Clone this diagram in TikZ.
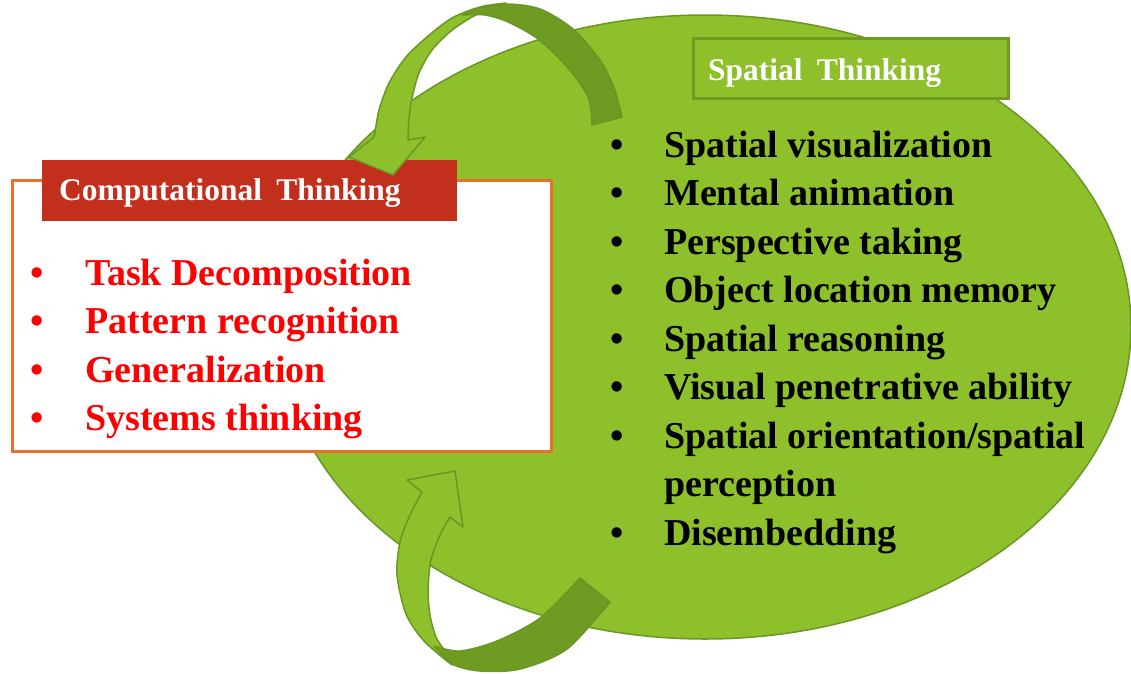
\documentclass[tikz,border=0pt]{standalone}
\usepackage{fontspec}
\setmainfont{Liberation Serif}
\usetikzlibrary{shapes.geometric}

\definecolor{leaf}{HTML}{8DC02A}
\definecolor{leafdark}{HTML}{6F9B22}
\definecolor{leafline}{HTML}{6A9624}
\definecolor{brick}{HTML}{C22F1C}
\definecolor{ember}{HTML}{E8702A}
\definecolor{redtext}{HTML}{FF0000}

\tikzset{
  listfont/.style={font=\fontsize{38}{48.5}\selectfont\bfseries},
  headfont/.style={font=\fontsize{31.5}{36}\selectfont\bfseries},
  item/.style={listfont, anchor=base west, inner sep=0pt},
  dot/.style={listfont, anchor=base, inner sep=0pt},
  band/.style={fill=leaf, draw=leafline, line width=1.5pt, line join=round},
  backband/.style={fill=leafdark, draw=leafline, line width=1.5pt, line join=round},
}

\begin{document}
\begin{tikzpicture}[x=1pt,y=-1pt]
\useasboundingbox (0,0) rectangle (1131,673);

% green oval behind the spatial-thinking list
\node[ellipse, draw=leafline, fill=leaf, line width=1.5pt,
      minimum width=852pt, minimum height=624pt, inner sep=0pt] (spatialarea) at (705,327) {};

% computational-thinking panel and its title bar
\node[draw=ember, fill=white, line width=3pt, minimum width=539pt,
      minimum height=271pt, inner sep=0pt] (ctbox) at (281.5,315.5) {};
\node[fill=brick, minimum width=415pt, minimum height=61pt, inner sep=0pt] (cthead) at (249.5,190.5) {};
\node[headfont, text=white, anchor=base west, inner sep=0pt] (cttitle) at (59,200) {Computational\hspace{0.45em}Thinking};

% upper curved arrow: light ribbon with head, then darker back part
\path[band] (373,138) -- (349,157) -- (393,175) -- (425,137) -- (408,140)
  -- plot[smooth] coordinates {(408,140) (409,118) (412,98) (419,73) (432,50) (451,31) (472,17) (488,10)}
  -- (506,3)
  -- plot[smooth] coordinates {(506,3) (480,7) (452,18) (427,37) (406,57) (389,83) (379,110) (375,133)}
  -- cycle;
\path[backband] (462,15)
  -- plot[smooth] coordinates {(462,15) (480,8) (507,4) (540,9) (573,29) (600,60) (614,88) (622,117)}
  -- (592,125)
  -- plot[smooth] coordinates {(592,125) (588,97) (568,68) (538,39) (508,22) (485,15) (462,15)}
  -- cycle;

% lower curved arrow
\path[band] (455,471) -- (463,527) -- (450,517)
  -- plot[smooth] coordinates {(450,517) (440,535) (431,560) (428,590) (430,615) (436,637) (446,652)}
  -- (452,665)
  -- plot[smooth] coordinates {(452,665) (424,641) (406,614) (397,575) (400,542) (410,515) (422,492)}
  -- (407,480) -- cycle;
\path[backband] (434,646)
  -- plot[smooth] coordinates {(434,646) (460,651) (497,641) (540,618) (580,578)}
  -- (610,602)
  -- plot[smooth] coordinates {(610,602) (567,649) (520,669) (480,671) (452,664) (434,646)}
  -- cycle;

% spatial-thinking title bar
\node[draw=leafdark, line width=3pt, fill=leaf, minimum width=315pt,
      minimum height=60pt, inner sep=0pt] (sthead) at (850.5,68) {};
\node[headfont, text=white, anchor=base west, inner sep=0pt] (sttitle) at (708,80) {Spatial\hspace{0.45em}Thinking};

% computational-thinking items
\begin{scope}[every node/.append style={text=redtext}]
  \node[dot] (cb1) at (37,285) {•};
  \node[item] (ct1) at (85,285) {Task Decomposition};
  \node[dot] (cb2) at (37,333.5) {•};
  \node[item] (ct2) at (85,333.5) {Pattern recognition};
  \node[dot] (cb3) at (37,382) {•};
  \node[item] (ct3) at (85,382) {Generalization};
  \node[dot] (cb4) at (37,430.5) {•};
  \node[item] (ct4) at (85,430.5) {Systems thinking};
\end{scope}

% spatial-thinking items
\node[dot] (sb1) at (617,157) {•};
\node[item] (st1) at (664,157) {Spatial visualization};
\node[dot] (sb2) at (617,205.5) {•};
\node[item] (st2) at (664,205.5) {Mental animation};
\node[dot] (sb3) at (617,254) {•};
\node[item] (st3) at (664,254) {Perspective taking};
\node[dot] (sb4) at (617,302.5) {•};
\node[item] (st4) at (664,302.5) {Object location memory};
\node[dot] (sb5) at (617,351) {•};
\node[item] (st5) at (664,351) {Spatial reasoning};
\node[dot] (sb6) at (617,399.5) {•};
\node[item] (st6) at (664,399.5) {Visual penetrative ability};
\node[dot] (sb7) at (617,448) {•};
\node[item] (st7) at (664,448) {Spatial orientation/spatial};
\node[item] (st7b) at (664,496.5) {perception};
\node[dot] (sb8) at (617,545) {•};
\node[item] (st8) at (664,545) {Disembedding};
\end{tikzpicture}
\end{document}
